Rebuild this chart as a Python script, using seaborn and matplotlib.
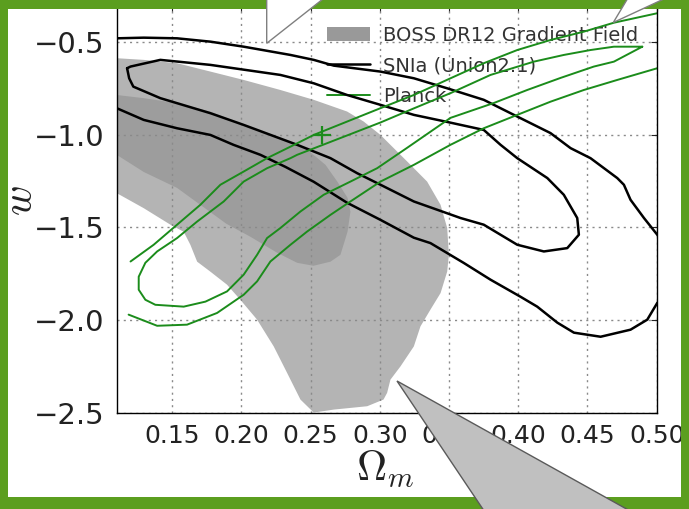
import numpy as np
import seaborn as sns
import matplotlib.pyplot as plt
from matplotlib.patches import Patch, Polygon, Rectangle
from matplotlib.lines import Line2D

# ---- data (Omega_m, w) ----
# BOSS DR12 gradient field, outer (light) region
boss_outer_om = [0.110, 0.1295, 0.1536, 0.1777, 0.2017, 0.2282, 0.2523, 0.2764, 0.2884, 0.3005,
                 0.3198, 0.3342, 0.3439, 0.3487, 0.3499, 0.3487, 0.3439, 0.3366, 0.3294, 0.3246,
                 0.3150, 0.3077, 0.3053, 0.3027, 0.2909, 0.2668, 0.2523, 0.2427, 0.2331, 0.2234,
                 0.2114, 0.1993, 0.1897, 0.1777, 0.1681, 0.1632, 0.1584, 0.1488, 0.1295, 0.110]
boss_outer_w = [-0.589, -0.598, -0.616, -0.661, -0.706, -0.760, -0.813, -0.876, -0.930, -1.002,
                -1.145, -1.253, -1.378, -1.503, -1.647, -1.737, -1.853, -1.942, -2.032, -2.140,
                -2.247, -2.319, -2.390, -2.426, -2.462, -2.480, -2.496, -2.426, -2.283, -2.140,
                -1.996, -1.889, -1.808, -1.738, -1.684, -1.593, -1.523, -1.485, -1.396, -1.315]
# BOSS DR12 gradient field, inner (dark) region
boss_inner_om = [0.110, 0.1295, 0.1536, 0.1777, 0.2017, 0.2282, 0.2478, 0.2608, 0.2694, 0.2767,
                 0.2788, 0.2767, 0.2716, 0.2644, 0.2521, 0.2403, 0.2259, 0.2066, 0.1892, 0.1704,
                 0.1536, 0.1295, 0.110]
boss_inner_w = [-0.787, -0.804, -0.831, -0.876, -0.948, -1.018, -1.082, -1.163, -1.254, -1.340,
                -1.415, -1.523, -1.647, -1.684, -1.706, -1.690, -1.636, -1.550, -1.480, -1.378,
                -1.287, -1.201, -1.109]

# SNIa (Union2.1) outer contour (leaves the frame on the right)
sn_outer_om = [0.110, 0.1295, 0.1536, 0.1777, 0.2017, 0.2355, 0.2523, 0.2668, 0.3005, 0.3246,
               0.3487, 0.3751, 0.3993, 0.4233, 0.4378, 0.4522, 0.4715, 0.4763, 0.4811, 0.4908,
               0.5004, 0.51, 0.51, 0.5004, 0.4932, 0.4811, 0.4595, 0.4402, 0.4282, 0.4137,
               0.4017, 0.380, 0.3607, 0.3366, 0.3246, 0.3005, 0.2764, 0.2523, 0.2319, 0.2138,
               0.1943, 0.1777, 0.1536, 0.1295, 0.110]
sn_outer_w = [-0.482, -0.4785, -0.482, -0.500, -0.527, -0.5715, -0.598, -0.629, -0.661, -0.697,
              -0.751, -0.813, -0.903, -0.992, -1.073, -1.127, -1.234, -1.270, -1.351, -1.449,
              -1.539, -1.65, -1.82, -1.906, -1.996, -2.050, -2.088, -2.066, -2.012, -1.926,
              -1.873, -1.781, -1.691, -1.584, -1.555, -1.459, -1.367, -1.254, -1.174, -1.109,
              -1.055, -1.002, -0.966, -0.921, -0.858]
# SNIa inner contour (closed)
sn_inner_om = [0.1175, 0.120, 0.1415, 0.1777, 0.2282, 0.2523, 0.2764, 0.3005, 0.3246, 0.3487,
               0.3751, 0.3872, 0.3993, 0.421, 0.4329, 0.4426, 0.4438, 0.4354, 0.4185, 0.3993,
               0.3751, 0.3583, 0.3246, 0.3005, 0.2837, 0.2644, 0.2403, 0.2017, 0.1777, 0.1415,
               0.122, 0.119]
sn_inner_w = [-0.643, -0.634, -0.598, -0.625, -0.679, -0.724, -0.787, -0.840, -0.894, -0.932,
              -0.975, -1.055, -1.127, -1.234, -1.324, -1.449, -1.539, -1.611, -1.629, -1.593,
              -1.485, -1.449, -1.360, -1.270, -1.208, -1.127, -1.055, -0.948, -0.885, -0.804,
              -0.742, -0.697]

# Planck outer contour: upper and lower branches
pl_upper_om = [0.120, 0.1367, 0.1536, 0.1704, 0.1849, 0.2017, 0.2186, 0.2355, 0.2523, 0.2764,
               0.3005, 0.3246, 0.3511, 0.3751, 0.3993, 0.4233, 0.4474, 0.4691, 0.5004]
pl_upper_w = [-1.683, -1.593, -1.485, -1.378, -1.270, -1.199, -1.127, -1.065, -1.002, -0.930,
              -0.858, -0.787, -0.697, -0.616, -0.545, -0.491, -0.446, -0.398, -0.347]
pl_lower_om = [0.1186, 0.1392, 0.1608, 0.1825, 0.2017, 0.2114, 0.2210, 0.2355, 0.2475, 0.2644,
               0.2788, 0.3005, 0.3246, 0.3511, 0.3751, 0.3993, 0.4233, 0.4474, 0.4715, 0.5004]
pl_lower_w = [-1.969, -2.029, -2.023, -1.960, -1.862, -1.790, -1.683, -1.593, -1.522, -1.432,
              -1.360, -1.253, -1.163, -1.055, -0.966, -0.894, -0.823, -0.760, -0.706, -0.643]
# Planck inner contour (closed)
pl_inner_om = [0.4896, 0.4691, 0.4522, 0.4329, 0.4113, 0.380, 0.3511, 0.3246, 0.3005, 0.2403,
               0.2355, 0.2186, 0.2017, 0.1873, 0.1681, 0.1536, 0.1392, 0.1307, 0.1259, 0.1259,
               0.1307, 0.1379, 0.1584, 0.1741, 0.1897, 0.2017, 0.2114, 0.2186, 0.2282, 0.2427,
               0.2595, 0.2788, 0.2981, 0.3198, 0.3511, 0.3824, 0.4065, 0.4306, 0.4546, 0.4691]
pl_inner_w = [-0.527, -0.527, -0.545, -0.5715, -0.6075, -0.679, -0.777, -0.859, -0.935, -1.109,
              -1.127, -1.181, -1.253, -1.360, -1.468, -1.557, -1.629, -1.690, -1.765, -1.835,
              -1.889, -1.916, -1.926, -1.899, -1.844, -1.754, -1.647, -1.557, -1.503, -1.414,
              -1.324, -1.253, -1.181, -1.071, -0.910, -0.830, -0.760, -0.695, -0.634, -0.6075]
planck_best = (0.258, -1.0)

legend_labels = ['BOSS DR12 Gradient Field', 'SNIa (Union2.1)', 'Planck']
xticks = [0.15, 0.20, 0.25, 0.30, 0.35, 0.40, 0.45, 0.50]
yticks = [-2.5, -2.0, -1.5, -1.0, -0.5]

# ---- styling ----
sns.set_style('whitegrid')
plt.rcParams['font.family'] = ['DejaVu Sans']
plt.rcParams['mathtext.fontset'] = 'cm'

W, H = 689, 509
fig = plt.figure(figsize=(W / 100, H / 100), dpi=100)
fig.patch.set_facecolor('white')

def fx(x):
    return x / W

def fy(y):
    return 1 - y / H

ax = fig.add_axes([fx(116.7), fy(413.3), fx(656.7) - fx(116.7), fy(4.5) - fy(413.3)])
ax.set_facecolor('white')

light = '#b4b4b4'
dark = '#9d9d9d'
green = '#1b8c1b'

ax.fill(boss_outer_om, boss_outer_w, color=light, lw=0, zorder=0.5)
ax.fill(boss_inner_om, boss_inner_w, color=dark, lw=0, zorder=0.6)

def close(a):
    return list(a) + [a[0]]

sns.lineplot(x=sn_outer_om, y=sn_outer_w, sort=False, estimator=None, color='black', lw=1.8, ax=ax, zorder=2)
sns.lineplot(x=close(sn_inner_om), y=close(sn_inner_w), sort=False, estimator=None, color='black', lw=1.8, ax=ax, zorder=2)
sns.lineplot(x=pl_upper_om, y=pl_upper_w, sort=False, estimator=None, color=green, lw=1.4, ax=ax, zorder=2.1)
sns.lineplot(x=pl_lower_om, y=pl_lower_w, sort=False, estimator=None, color=green, lw=1.4, ax=ax, zorder=2.1)
sns.lineplot(x=close(pl_inner_om), y=close(pl_inner_w), sort=False, estimator=None, color=green, lw=1.4, ax=ax, zorder=2.1)
ax.plot([planck_best[0]], [planck_best[1]], marker='+', ms=13, mew=1.6, color=green, zorder=2.2)

ax.set_xlim(0.11, 0.5)
ax.set_ylim(-2.5, -0.3)
ax.set_xticks(xticks)
ax.set_xticklabels([f'{t:.2f}' for t in xticks])
ax.set_yticks(yticks)
ax.set_yticklabels([f'{t:.1f}'.replace('-', '\u2212') for t in yticks])
ax.tick_params(colors='#222222', direction='in', length=4, width=0.8,
               top=True, right=True, pad=8)
ax.tick_params(axis='x', labelsize=18)
ax.tick_params(axis='y', labelsize=21, pad=9)
ax.grid(True, color='#8a8a8a', linestyle=(0, (1.5, 3)), linewidth=1)
ax.set_axisbelow('line')
for s in ax.spines.values():
    s.set_color('black')
    s.set_linewidth(1.0)

ax.set_xlabel(r'$\Omega_m$', fontsize=30, color='#222222')
ax.xaxis.set_label_coords(0.497, -0.085)
ax.set_ylabel(r'$w$', fontsize=30, color='#222222')
ax.yaxis.set_label_coords(-0.14, 0.52)

handles = [Patch(facecolor='#999999', edgecolor='none'),
           Line2D([], [], color='black', lw=1.8),
           Line2D([], [], color=green, lw=1.4)]
leg = ax.legend(handles, legend_labels, loc='upper left', bbox_to_anchor=(fx(327), fy(26)),
                bbox_transform=fig.transFigure, frameon=False, fontsize=14, borderpad=0,
                handlelength=2.2, handletextpad=0.7, labelspacing=0.58, borderaxespad=0)
for t in leg.get_texts():
    t.set_color('#333333')
leg.set_zorder(1.8)

# ---- slide frame and callouts (figure pixels) ----
frame = '#5b9e1f'
for x0, y0, x1, y1 in [(0, 0, W, 9), (0, 0, 8, H), (681, 0, W, H), (0, 497, W, H)]:
    fig.patches.append(Rectangle((fx(x0), fy(y1)), fx(x1) - fx(x0), fy(y0) - fy(y1),
                                 transform=fig.transFigure, facecolor=frame, edgecolor='none', zorder=5))

def callout(pts, fc, ec):
    fig.patches.append(Polygon([(fx(x), fy(y)) for x, y in pts], closed=True,
                               transform=fig.transFigure, facecolor=fc, edgecolor=ec, lw=1.0, zorder=6))

callout([(266.7, -40), (266.7, 43.3), (372.5, -40)], 'white', '#7f7f7f')
callout([(613.3, 22.5), (650.7, -40), (747.7, -40)], 'white', '#7f7f7f')
callout([(397, 381), (517, 560), (718, 560)], '#c0c0c0', '#5a5a5a')

fig.savefig('out.png', dpi=100)
